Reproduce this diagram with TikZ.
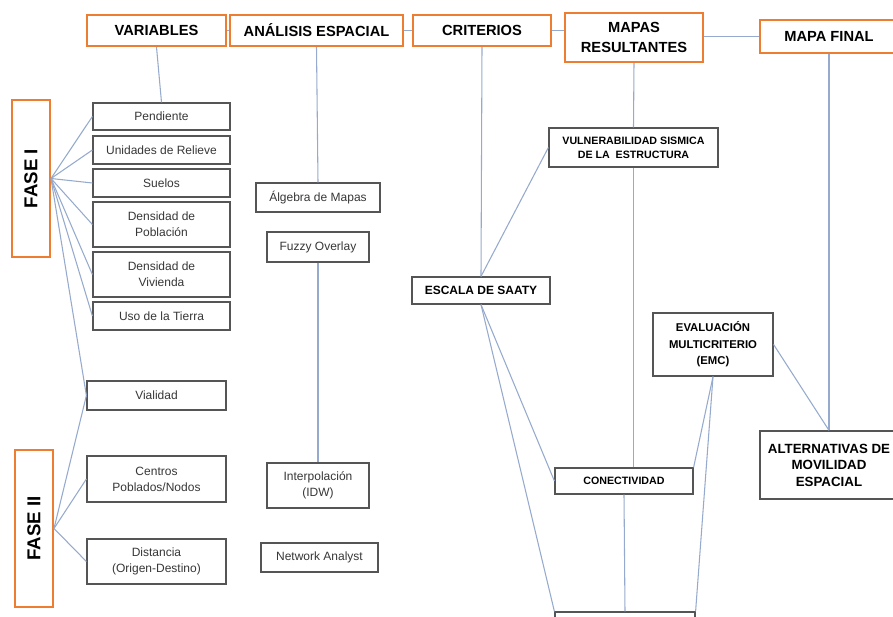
\documentclass[tikz,border=0pt]{standalone}
\usepackage{fontspec}
\setmainfont{Liberation Sans}
\definecolor{orangeb}{RGB}{237,125,49}
\definecolor{grayb}{RGB}{85,85,85}
\definecolor{textg}{RGB}{55,55,55}
\definecolor{linec}{RGB}{150,170,205}

\begin{document}
\begin{tikzpicture}[x=0.75pt,y=-0.75pt,
    wh/.style 2 args={minimum width=#1*0.75pt,minimum height=#2*0.75pt},
    head/.style={draw=orangeb,line width=1.5pt,fill=white,inner sep=0pt,align=center,
        font=\bfseries\fontsize{11}{15.5}\selectfont},
    phase/.style={head,rotate=90,font=\bfseries\fontsize{14}{16}\selectfont},
    item/.style={draw=grayb,line width=0.9pt,fill=white,inner sep=0pt,align=center,
        text=textg,font=\fontsize{9}{12}\selectfont},
    crit/.style={item,text=black,font=\bfseries\fontsize{8}{10.5}\selectfont},
    link/.style={draw=linec,line width=0.8pt}]
    \useasboundingbox (0,0) rectangle (893,617);
    \clip (0,0) rectangle (893,617);

    \node[head,wh={139}{31}] (var) at (156.5,30.5) {VARIABLES};
    \node[head,wh={173}{31}] (ana) at (316.5,30.5) {ANÁLISIS ESPACIAL};
    \node[head,wh={138}{31}] (cri) at (482,30.5)   {CRITERIOS};
    \node[head,wh={138}{49}] (map) at (634,37.5)   {MAPAS\\RESULTANTES};
    \node[head,wh={138}{33}] (fin) at (829,36.5)   {MAPA FINAL};

    \node[phase,wh={157}{38}] (f1) at (31,178.5) {FASE I};
    \node[phase,wh={157}{38}] (f2) at (34,528.5) {FASE II};

    \node[item,wh={137}{27}] (pen) at (161.5,116.5) {Pendiente};
    \node[item,wh={137}{28}] (rel) at (161.5,150)   {Unidades de Relieve};
    \node[item,wh={137}{28}] (sue) at (161.5,183)   {Suelos};
    \node[item,wh={137}{45}] (dpo) at (161.5,224.5) {Densidad de\\Población};
    \node[item,wh={137}{45}] (dvi) at (161.5,274.5) {Densidad de\\Vivienda};
    \node[item,wh={137}{28}] (uso) at (161.5,316)   {Uso de la Tierra};
    \node[item,wh={139}{29}] (via) at (156.5,395.5) {Vialidad};
    \node[item,wh={139}{46}] (cen) at (156.5,479)   {Centros\\Poblados/Nodos};
    \node[item,wh={139}{45}] (dis) at (156.5,561.5) {Distancia\\(Origen-Destino)};

    \node[item,wh={124}{29}] (alg) at (318,197.5)   {Álgebra de Mapas};
    \node[item,wh={102}{30}] (fuz) at (318,247)     {Fuzzy Overlay};
    \node[item,wh={102}{45}] (idw) at (318,485.5)   {Interpolación\\(IDW)};
    \node[item,wh={117}{29}] (net) at (319.5,557.5) {Network Analyst};

    \node[crit,wh={138}{27},font=\bfseries\fontsize{9}{11}\selectfont] (saa) at (481,290.5) {ESCALA DE SAATY};
    \node[crit,wh={169}{39}] (vul) at (633.5,147.5) {VULNERABILIDAD SISMICA\\DE LA\ \ ESTRUCTURA};
    \node[crit,wh={138}{26}] (con) at (624,481)     {CONECTIVIDAD};
    \node[crit,wh={120}{63},font=\bfseries\fontsize{8.5}{12.4}\selectfont] (emc) at (713,344.5) {EVALUACIÓN\\MULTICRITERIO\\(EMC)};
    \node[crit,wh={138}{68},font=\bfseries\fontsize{10}{12.4}\selectfont] (alt) at (829,465) {ALTERNATIVAS DE\\MOVILIDAD\\ESPACIAL};
    \node[crit,wh={140}{30}] (bot) at (625,627) {};

    \draw[link] (var.east) -- (ana.west);
    \draw[link] (ana.east) -- (cri.west);
    \draw[link] (cri.east) -- (cri.east -| map.west);
    \draw[link] (map.east |- fin.west) -- (fin.west);

    \draw[link] (var.south) -- (pen.north);
    \foreach \v in {pen,rel,sue,dpo,dvi,uso,via}
        \draw[link] (f1.south) -- (\v.west);
    \foreach \v in {via,cen,dis}
        \draw[link] (f2.south) -- (\v.west);

    \draw[link] (ana.south) -- (alg.north);
    \draw[link] (fuz.south) -- (idw.north);

    \draw[link] (cri.south) -- (saa.north);
    \draw[link] (saa.north) -- (vul.west);
    \draw[link] (map.south) -- (vul.north);
    \draw[link] (vul.south) -- (vul.south |- con.north);
    \draw[link] (saa.south) -- (con.west);
    \draw[link] (saa.south) -- (bot.north west);
    \draw[link] (con.south) -- (bot.north);
    \draw[link] (emc.south) -- (con.north east);
    \draw[link] (emc.south) -- (bot.north east);
    \draw[link] (emc.east) -- (alt.north);
    \draw[link] (fin.south) -- (alt.north);
\end{tikzpicture}
\end{document}
